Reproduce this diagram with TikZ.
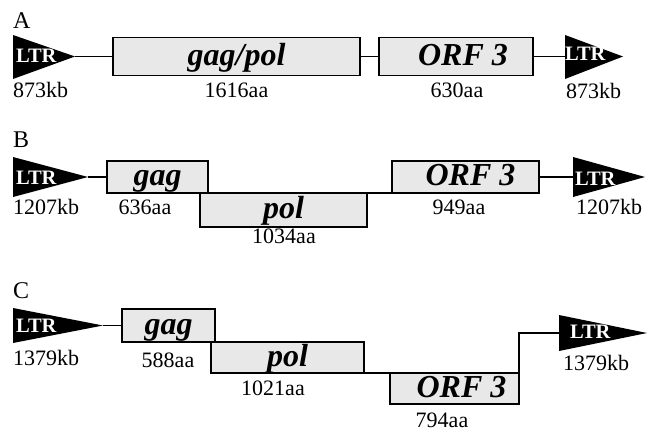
\documentclass[tikz,border=0pt]{standalone}
\usepackage{fontspec}
\setmainfont{Liberation Serif}
\definecolor{boxgray}{HTML}{E8E8E8}
\newcommand\genefont{\fontsize{32}{36}\selectfont\bfseries\itshape}
\newcommand\lblfont{\fontsize{22}{24}\selectfont}
\newcommand\ltrfont{\fontsize{20.5}{22}\selectfont\bfseries}
\newcommand\panelfont{\fontsize{24}{26}\selectfont}
\tikzset{
  genebox/.style={draw, line width=1.8pt, fill=boxgray, inner sep=0pt, outer sep=0pt,
    font=\genefont, text height=22pt, text depth=5pt},
  conn/.style={line width=1.3pt},
  ltrtri/.style={fill=black},
  ltrtext/.style={text=white, font=\ltrfont, inner sep=0pt, anchor=base west},
  lbl/.style={font=\lblfont, inner sep=0pt, anchor=base},
  lblw/.style={font=\lblfont, inner sep=0pt, anchor=base west},
  panel/.style={font=\panelfont, inner sep=0pt, anchor=base west}
}
\begin{document}
\begin{tikzpicture}[x=1pt, y=-1pt]
\useasboundingbox (0,0) rectangle (650,431);

% ---------------- A ----------------
\node[panel] (pA) at (13,28) {A};
\fill[ltrtri] (13,35) -- (13,79) -- (75,56.5) -- cycle;
\coordinate (tipA1) at (75,56.5);
\node[ltrtext] (ltrA1) at (16,62) {LTR};
\node[genebox, minimum width=247pt, minimum height=38pt] (gpA) at (236.5,56.5) {gag/pol};
\node[genebox, minimum width=154pt, minimum height=38pt] (orfA) at (456,56.5) {\hspace*{14pt}ORF 3};
\fill[ltrtri] (565,35) -- (565,79) -- (623,56.5) -- cycle;
\coordinate (baseA2) at (565,56.5);
\node[ltrtext] (ltrA2) at (565,60) {LTR};
\draw[conn] (tipA1) -- (gpA.west);
\draw[conn] (gpA.east) -- (orfA.west);
\draw[conn] (orfA.east) -- (baseA2);
\node[lblw] (kbA1) at (13,97) {873kb};
\node[lbl] (aaA1) at (236.5,97) {1616aa};
\node[lbl] (aaA2) at (457,97) {630aa};
\node[lblw] (kbA2) at (566,98) {873kb};

% ---------------- B ----------------
\node[panel] (pB) at (13,147) {B};
\fill[ltrtri] (13,157) -- (13,197) -- (88,177) -- cycle;
\coordinate (tipB1) at (88,177);
\node[ltrtext] (ltrB1) at (16,184) {LTR};
\node[genebox, minimum width=101pt, minimum height=32pt] (gagB) at (157.5,177) {gag};
\node[genebox, minimum width=167pt, minimum height=34pt] (polB) at (283.5,210) {pol};
\node[genebox, minimum width=147pt, minimum height=32pt] (orfB) at (465.5,177) {\hspace*{10pt}ORF 3};
\fill[ltrtri] (573,157) -- (573,197) -- (645,177) -- cycle;
\coordinate (baseB2) at (573,177);
\node[ltrtext] (ltrB2) at (575,185) {LTR};
\draw[conn] (tipB1) -- (gagB.west);
\draw[conn] (polB.north east) -- (orfB.south west);
\draw[conn] (orfB.east) -- (baseB2);
\node[lblw] (kbB1) at (13,214) {1207kb};
\node[lbl] (aaB1) at (145,214) {636aa};
\node[lbl] (aaB2) at (284,243) {1034aa};
\node[lbl] (aaB3) at (459,214) {949aa};
\node[lblw] (kbB2) at (576,214) {1207kb};

% ---------------- C ----------------
\node[panel] (pC) at (13,298) {C};
\fill[ltrtri] (13,308) -- (13,343) -- (103,325.5) -- cycle;
\coordinate (tipC1) at (103,325.5);
\node[ltrtext] (ltrC1) at (16,332) {LTR};
\node[genebox, minimum width=93pt, minimum height=33pt] (gagC) at (168.5,325.5) {gag};
\node[genebox, minimum width=153pt, minimum height=31pt] (polC) at (287.5,357.5) {pol};
\node[genebox, minimum width=129pt, minimum height=31pt] (orfC) at (454.5,388.5) {\hspace*{14pt}ORF 3};
\fill[ltrtri] (559,315) -- (559,351) -- (647,333) -- cycle;
\coordinate (baseC2) at (559,333);
\node[ltrtext] (ltrC2) at (570,338) {LTR};
\draw[conn] (tipC1) -- (gagC.west);
\draw[conn] (polC.south east) -- (orfC.north west);
\draw[conn] (orfC.north east) |- (baseC2);
\node[lblw] (kbC1) at (13,365) {1379kb};
\node[lbl] (aaC1) at (168,367) {588aa};
\node[lbl] (aaC2) at (273,395) {1021aa};
\node[lbl] (aaC3) at (442,427) {794aa};
\node[lblw] (kbC2) at (563,370) {1379kb};
\end{tikzpicture}
\end{document}
